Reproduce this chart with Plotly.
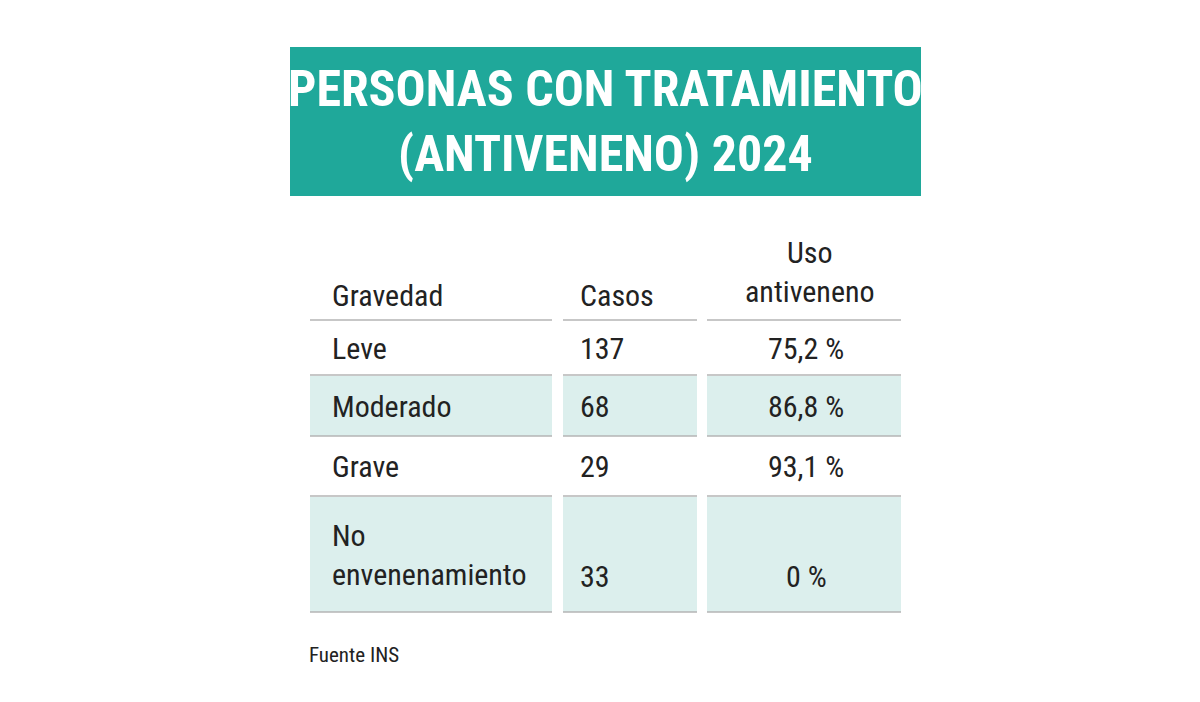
import plotly.graph_objects as go

title_lines = ["PERSONAS CON TRATAMIENTO", "(ANTIVENENO) 2024"]
headers = ["Gravedad", "Casos", "Uso<br>antiveneno"]
gravedad = ["Leve", "Moderado", "Grave", "No<br>envenenamiento"]
casos = [137, 68, 29, 33]
uso = ["75,2 %", "86,8 %", "93,1 %", "0 %"]
source = "Fuente INS"

TEAL = "#1fa89a"
SHADE = "#dcefed"
LINE = "#b5b5b5"
FONT = "Liberation Sans Narrow, Roboto Condensed, Arial Narrow, sans-serif"
OX, OY = -8, -8  # page offset compensation

def X(v): return v + OX
def Y(v): return v + OY

fig = go.Figure()
shapes, ann = [], []

shapes.append(dict(type="rect", x0=X(290), x1=X(921), y0=Y(47), y1=Y(196), fillcolor=TEAL, line_width=0, layer="below"))
ann.append(dict(x=X(605), y=Y(121), text="<br>".join(title_lines), showarrow=False,
                font=dict(family=FONT, size=50, color="white", weight="bold"), align="center"))

cols = [(310, 552), (563, 697), (707, 901)]
hf = dict(family=FONT, size=30, color="#222")
ann.append(dict(x=X(330), y=Y(295), text=headers[0], xanchor="left", showarrow=False, font=hf))
ann.append(dict(x=X(578), y=Y(295), text=headers[1], xanchor="left", showarrow=False, font=hf))
ann.append(dict(x=X(810), y=Y(272), text=headers[2], showarrow=False, font=hf))
for c0, c1 in cols:
    shapes.append(dict(type="line", x0=X(c0), x1=X(c1), y0=Y(320), y1=Y(320), line=dict(color=LINE, width=1.5)))

row_bounds = [(321, 375), (376, 436), (437, 496), (497, 612)]
for i, (y0, y1) in enumerate(row_bounds):
    ym = (y0 + y1) / 2
    if i % 2 == 1:
        for c0, c1 in cols:
            shapes.append(dict(type="rect", x0=X(c0), x1=X(c1), y0=Y(y0), y1=Y(y1), fillcolor=SHADE, line_width=0, layer="below"))
    for c0, c1 in cols:
        shapes.append(dict(type="line", x0=X(c0), x1=X(c1), y0=Y(y1), y1=Y(y1), line=dict(color=LINE, width=1.5)))
    f = dict(family=FONT, size=30, color="#222")
    ann.append(dict(x=X(330), y=Y(ym), text=gravedad[i], xanchor="left", showarrow=False, font=f, align="left"))
    ylast = ym + (22 if "<br>" in gravedad[i] else 0)
    ann.append(dict(x=X(578), y=Y(ylast), text=str(casos[i]), xanchor="left", showarrow=False, font=f))
    ann.append(dict(x=X(806), y=Y(ylast), text=uso[i], showarrow=False, font=f))

ann.append(dict(x=X(307), y=Y(655), text=source, xanchor="left", showarrow=False, font=dict(family=FONT, size=21, color="#222")))

fig.update_layout(width=1200, height=702, margin=dict(l=0, r=0, t=0, b=0),
                  paper_bgcolor="white", plot_bgcolor="white",
                  xaxis=dict(range=[0, 1200], visible=False, fixedrange=True),
                  yaxis=dict(range=[702, 0], visible=False, fixedrange=True),
                  shapes=shapes, annotations=ann, showlegend=False)
fig.write_html("out.html")
